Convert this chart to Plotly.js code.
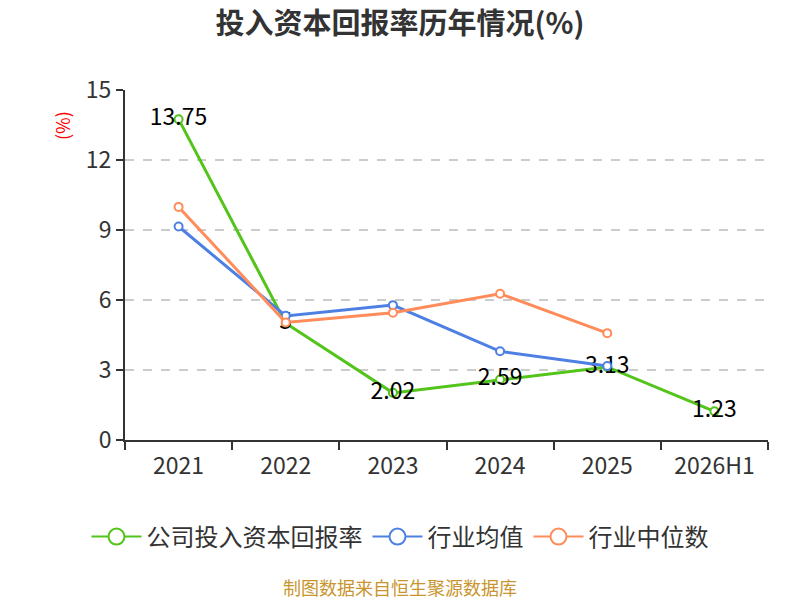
<!DOCTYPE html>
<html>
<head>
<meta charset="utf-8">
<script src="https://cdn.plot.ly/plotly-3.0.1.min.js"></script>
<style>
  body { margin: 0; background: #fff; }
  #chart { width: 800px; height: 600px; }
</style>
</head>
<body>
<div id="chart"></div>
<script>
var years = ['2021', '2022', '2023', '2024', '2025', '2026H1']
var companyRoic = [13.75, 5, 2.02, 2.59, 3.13, 1.23]
var industryAvg = [9.15, 5.32, 5.78, 3.80, 3.17, null]
var industryMedian = [9.99, 5.04, 5.45, 6.27, 4.58, null]
var yTicks = [0, 3, 6, 9, 12, 15]

var names = ['公司投入资本回报率', '行业均值', '行业中位数']
var colors = ['#52c41a', '#4e80e4', '#ff8c5a']
var series = [companyRoic, industryAvg, industryMedian]

var traces = []
series.forEach(function(vals, i) {
    var t = {
        x: years,
        y: vals,
        type: 'scatter',
        mode: 'lines+markers',
        name: names[i],
        showlegend: false,
        line: {color: colors[i], width: 3},
        marker: {size: 8, color: '#fff', line: {color: colors[i], width: 2}},
        hoverinfo: 'none'
    }
    if (i === 0) {
        t.mode = 'lines+markers+text'
        t.text = vals.map(function(v) { return String(v) })
        t.textposition = 'middle center'
        t.textfont = {size: 23, color: '#000', family: 'Noto Sans CJK SC'}
    }
    traces.push(t)
})

// legend-only entries with bigger circles
names.forEach(function(n, i) {
    traces.push({
        x: [null], y: [null],
        type: 'scatter',
        mode: 'lines+markers',
        name: n,
        line: {color: colors[i], width: 2},
        marker: {size: 16, color: '#fff', line: {color: colors[i], width: 2}}
    })
})

var layout = {
    width: 800,
    height: 600,
    margin: {l: 125, r: 32, t: 90, b: 160},
    paper_bgcolor: '#fff',
    plot_bgcolor: '#fff',
    font: {family: 'Noto Sans CJK SC', color: '#333'},
    title: {
        text: '<b>投入资本回报率历年情况(%)</b>',
        x: 0.5, xanchor: 'center',
        y: 0.96, yanchor: 'middle',
        font: {size: 29, color: '#333'}
    },
    xaxis: {
        type: 'category',
        range: [-0.5, 5.5],
        tickson: 'boundaries',
        ticks: 'outside',
        ticklen: 8,
        tickcolor: '#333',
        tickwidth: 2,
        showline: true,
        linecolor: '#333',
        linewidth: 2,
        showgrid: false,
        ticklabelstandoff: 4,
        tickfont: {size: 23, color: '#333'},
        fixedrange: true
    },
    yaxis: {
        range: [0, 15],
        tickvals: yTicks,
        ticks: 'outside',
        ticklen: 7,
        tickcolor: '#333',
        tickwidth: 2,
        showline: true,
        linecolor: '#333',
        linewidth: 2,
        showgrid: true,
        gridcolor: '#cccccc',
        griddash: 'dash',
        gridwidth: 1.5,
        zeroline: false,
        tickfont: {size: 23, color: '#333'},
        fixedrange: true
    },
    showlegend: true,
    legend: {
        orientation: 'h',
        xref: 'container', yref: 'container',
        x: 0.5, xanchor: 'center',
        y: 0.105, yanchor: 'middle',
        font: {size: 24, color: '#333'},
        itemwidth: 50
    },
    annotations: [
        {
            text: '(%)', xref: 'paper', yref: 'paper',
            x: -0.098, y: 0.9, xanchor: 'center', yanchor: 'middle',
            textangle: -90, showarrow: false,
            font: {size: 18, color: '#ff0000'}
        },
        {
            text: '制图数据来自恒生聚源数据库', xref: 'paper', yref: 'paper',
            x: 0.428, y: -0.42, xanchor: 'center', yanchor: 'middle',
            showarrow: false,
            font: {size: 18, color: '#c8952e'}
        }
    ]
}

Plotly.newPlot('chart', traces, layout, {displayModeBar: false, staticPlot: true})
</script>
</body>
</html>
